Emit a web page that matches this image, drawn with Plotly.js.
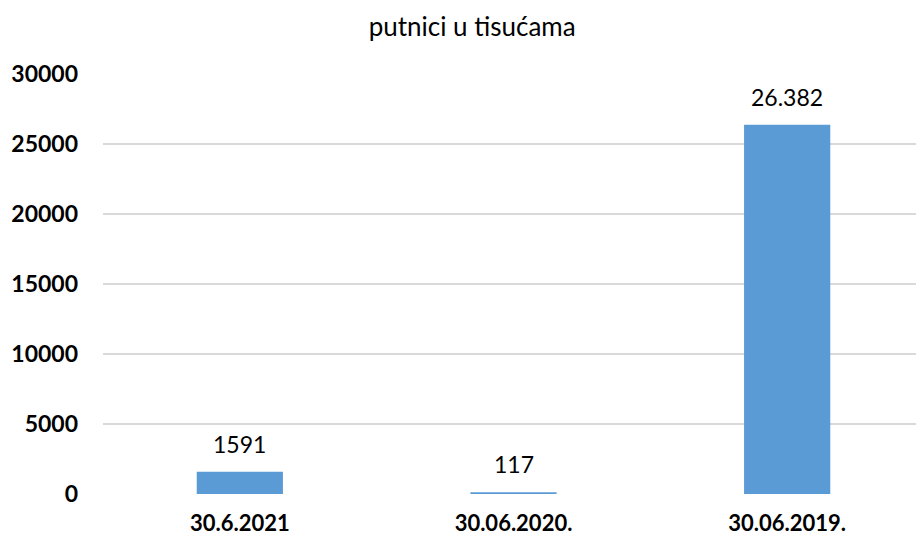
<!DOCTYPE html>
<html><head><meta charset="utf-8">
<script src="https://cdn.plot.ly/plotly-3.0.1.min.js"></script>
<style>html,body{margin:0;padding:0;overflow:hidden;background:#fff}</style>
</head><body><div id="chart"></div>
<script>
const categories = ["30.6.2021", "30.06.2020.", "30.06.2019."];
const passengers = [1591, 117, 26382];
const valueLabels = ["1591", "117", "26.382"];
const yTicks = [0, 5000, 10000, 15000, 20000, 25000, 30000];

const annotations = categories.map((c, i) => ({
  x: c, y: passengers[i], xref: 'x', yref: 'y',
  text: valueLabels[i], showarrow: false, yanchor: 'bottom', yshift: 12,
  font: {family: 'Lato, sans-serif', size: 23, color: '#000'}
}));

Plotly.newPlot('chart', [{
  type: 'bar',
  x: categories,
  y: passengers,
  marker: {color: '#5B9BD5'},
  hoverinfo: 'none'
}], {
  width: 924, height: 541,
  margin: {l: 103, r: 0, t: 74, b: 47},
  paper_bgcolor: '#fff', plot_bgcolor: '#fff',
  bargap: 0.685,
  annotations: annotations,
  title: {text: 'putnici u tisućama', font: {family: 'Lato, sans-serif', size: 26, color: '#000'}, x: 0.511, xanchor: 'center', y: 0.95, yanchor: 'middle'},
  showlegend: false,
  xaxis: {type: 'category', showgrid: false, showline: false, zeroline: false, ticks: '',
    tickfont: {family: 'Lato, sans-serif', size: 22, color: '#000', weight: 'bold'}, ticklabelstandoff: 14},
  yaxis: {range: [0, 30000], tickvals: yTicks, ticktext: yTicks.map(String), showgrid: true,
    gridcolor: '#D9D9D9', gridwidth: 1.5, zeroline: false, showline: false, ticks: '',
    tickfont: {family: 'Lato, sans-serif', size: 23, color: '#000', weight: 'bold'}, ticklabelstandoff: 24}
}, {displayModeBar: false, staticPlot: true});
</script></body></html>
